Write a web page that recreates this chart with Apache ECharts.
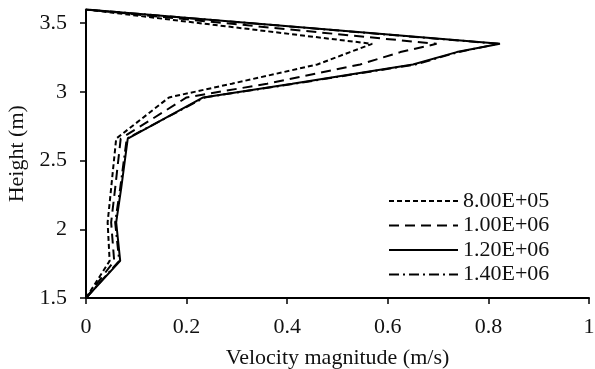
<!DOCTYPE html>
<html>
<head>
<meta charset="utf-8">
<script src="https://cdn.jsdelivr.net/npm/echarts@6/dist/echarts.min.js"></script>
<style>
html,body{margin:0;padding:0;background:#fff;}
#c{width:595px;height:369px;}
</style>
</head>
<body>
<div id="c"></div>
<script>
// Heights (m) shared by all profiles
var heights = [1.5, 1.77, 2.05, 2.3, 2.66, 2.96, 3.06, 3.2, 3.29, 3.35, 3.6];
// Velocity magnitude (m/s) for each case
var v800k  = [0, 0.047, 0.043, 0.050, 0.060, 0.165, 0.29, 0.46, 0.525, 0.569, 0];
var v1000k = [0, 0.056, 0.050, 0.058, 0.069, 0.200, 0.36, 0.545, 0.625, 0.697, 0];
var v1200k = [0, 0.068, 0.060, 0.070, 0.083, 0.233, 0.41, 0.65, 0.737, 0.823, 0];
var v1400k = [0, 0.066, 0.058, 0.068, 0.081, 0.236, 0.415, 0.655, 0.74, 0.82, 0];
var seriesNames = ['8.00E+05', '1.00E+06', '1.20E+06', '1.40E+06'];
var xTicks = [0, 0.2, 0.4, 0.6, 0.8, 1];
var yTicks = [1.5, 2, 2.5, 3, 3.5];

function pairs(v){ return v.map(function(x,i){ return [x, heights[i]]; }); }

var font = 'Liberation Serif, Times New Roman, serif';
var dashes = [[5,3],[10,6],'solid',[10,4,2,4]];
var vals = [v800k, v1000k, v1200k, v1400k];

var chart = echarts.init(document.getElementById('c'));
chart.setOption({
  animation: false,
  backgroundColor: '#fff',
  grid: {left: 86, right: 6, top: 9.5, bottom: 71, containLabel: false, outerBoundsMode: 'none'},
  legend: {
    orient: 'vertical', left: 383, top: 185,
    itemWidth: 69, itemHeight: 14, itemGap: 2.5,
    itemStyle: {opacity: 0},
    textStyle: {fontFamily: font, fontSize: 22, color: '#111'},
    data: seriesNames
  },
  xAxis: {
    type: 'value', min: 0, max: 1, interval: 0.2,
    name: 'Velocity magnitude (m/s)', nameLocation: 'middle', nameGap: 49,
    nameTextStyle: {fontFamily: font, fontSize: 22, color: '#111'},
    axisLine: {show: true, lineStyle: {color: '#000', width: 2}},
    axisTick: {show: true, inside: false, length: 6, lineStyle: {color: '#000', width: 1.5}},
    splitLine: {show: false},
    axisLabel: {fontFamily: font, fontSize: 22, color: '#111', margin: 18,
      formatter: function(v){ return xTicks.indexOf(+v.toFixed(1)) >= 0 ? String(+v.toFixed(1)) : ''; }}
  },
  yAxis: {
    type: 'value', min: 1.5, max: 3.6, interval: 0.5,
    name: 'Height (m)', nameLocation: 'middle', nameGap: 58, nameRotate: 90,
    nameTextStyle: {fontFamily: font, fontSize: 22, color: '#111'},
    axisLine: {show: true, lineStyle: {color: '#000', width: 2}},
    axisTick: {show: true, inside: false, length: 6, lineStyle: {color: '#000', width: 1.5}},
    splitLine: {show: false},
    axisLabel: {fontFamily: font, fontSize: 22, color: '#111', margin: 19, showMaxLabel: false,
      formatter: function(v){ return yTicks.indexOf(+v.toFixed(1)) >= 0 ? String(+v.toFixed(1)) : ''; }}
  },
  series: seriesNames.map(function(n, i){
    return {
      name: n, type: 'line', symbol: 'none', data: pairs(vals[i]),
      itemStyle: {color: '#000'},
      lineStyle: {color: '#000', width: 2, type: dashes[i]},
      z: i === 2 ? 3 : 2
    };
  })
});
</script>
</body>
</html>
